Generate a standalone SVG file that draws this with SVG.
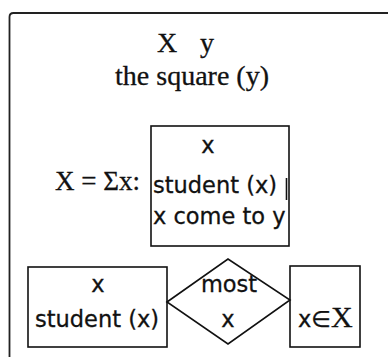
<svg xmlns="http://www.w3.org/2000/svg" width="388" height="357" viewBox="0 0 388 357">
<style>
.ln{fill:none;stroke:#111;stroke-width:1.6}
.frame{fill:none;stroke:#222;stroke-width:1.8}
.serif{font-family:"Liberation Serif","Times New Roman",serif;fill:#111;stroke:#111;stroke-width:0.3}
.sans{font-family:"DejaVu Sans","Noto Sans",sans-serif;fill:#111;stroke:#111;stroke-width:0.3;font-size:22.5px}
</style>
<rect width="388" height="357" fill="#fff"/>
<path class="frame" d="M9.5,357 V17 Q9.5,13 13.5,13 H388"/>
<g id="header">
<text class="serif" font-size="28" y="52"><tspan x="157">X</tspan><tspan x="200">y</tspan></text>
<text class="serif" font-size="28" x="192" y="85" text-anchor="middle">the square (y)</text>
</g>
<g id="definition">
<text class="serif" font-size="27" x="55" y="190">X = Σx:</text>
</g>
<g id="setbox">
<rect class="ln" x="151" y="126" width="138" height="120"/>
<line class="ln" x1="286.5" y1="178" x2="286.5" y2="200"/>
<text class="sans" x="208" y="153" text-anchor="middle">x</text>
<text class="sans" x="153" y="193">student (x)</text>
<text class="sans" x="153" y="224">x come to y</text>
</g>
<g id="restrictor">
<rect class="ln" x="28" y="267" width="139" height="80"/>
<text class="sans" x="98" y="292" text-anchor="middle">x</text>
<text class="sans" x="97" y="327" text-anchor="middle">student (x)</text>
</g>
<g id="quantifier">
<polygon class="ln" points="167,302 228,259 290,300 228,344"/>
<text class="sans" x="229" y="292" text-anchor="middle">most</text>
<text class="sans" x="228" y="327" text-anchor="middle">x</text>
</g>
<g id="scope">
<rect class="ln" x="290" y="266" width="70" height="81"/>
<text x="298" y="327"><tspan class="sans">x∈</tspan><tspan class="serif" font-size="30">X</tspan></text>
</g>
<g id="connectors"></g>
</svg>
